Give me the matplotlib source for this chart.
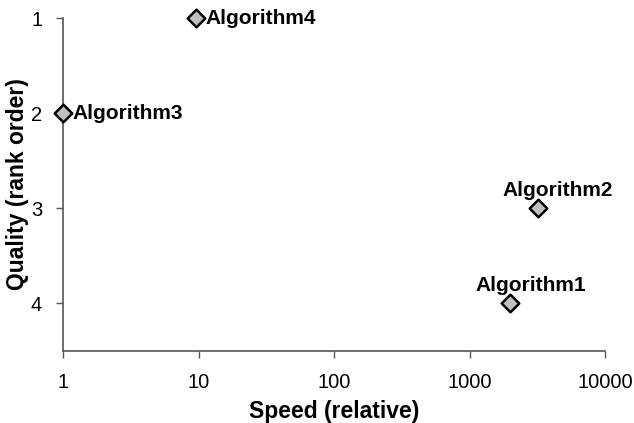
import matplotlib.pyplot as plt

plt.rcParams['font.family'] = ['Liberation Sans', 'DejaVu Sans']

names = ['Algorithm1', 'Algorithm2', 'Algorithm3', 'Algorithm4']
speed = [2000, 3200, 1, 9.6]
quality = [4, 3, 2, 1]

fig = plt.figure(figsize=(6.34, 4.23), dpi=100)
ax = fig.add_axes([63 / 634, 1 - 351 / 423, 542 / 634, 333 / 423])

ax.scatter(speed, quality, marker='D', s=80, facecolor='#c0c0c0', edgecolor='black',
           linewidth=1.8, zorder=3, clip_on=False)

# label placement: first two above the marker, the rest to the right
for n, x, y in zip(names, speed, quality):
    if y >= 3:
        ax.annotate(n, (x, y), xytext=(14.5, 6), textcoords='offset points', ha='center',
                    va='bottom', fontsize=15, fontweight='bold')
    else:
        ax.annotate(n, (x, y), xytext=(6.5, 0), textcoords='offset points', ha='left',
                    va='center', fontsize=15, fontweight='bold')

ax.set_xscale('log')
ax.set_xlim(1, 10000)
ax.set_ylim(4.5, 1)
ax.set_yticks([1, 2, 3, 4])
ax.set_xticks([1, 10, 100, 1000, 10000])
ax.set_xticklabels(['1', '10', '100', '1000', '10000'])
ax.minorticks_off()

for s in ['top', 'right']:
    ax.spines[s].set_visible(False)
for s in ['left', 'bottom']:
    ax.spines[s].set_color('#555555')
    ax.spines[s].set_linewidth(1.2)
ax.tick_params(colors='#555555', labelcolor='black', labelsize=14.5, length=5, width=1)
ax.tick_params(axis='y', pad=10)
ax.tick_params(axis='x', pad=11)

ax.set_xlabel('Speed (relative)', fontsize=16.5, fontweight='bold')
ax.set_ylabel('Quality (rank order)', fontsize=16.5, fontweight='bold')
ax.xaxis.set_label_coords(0.5, -0.148)
ax.yaxis.set_label_coords(-0.062, 0.5)

fig.savefig('out.png')
